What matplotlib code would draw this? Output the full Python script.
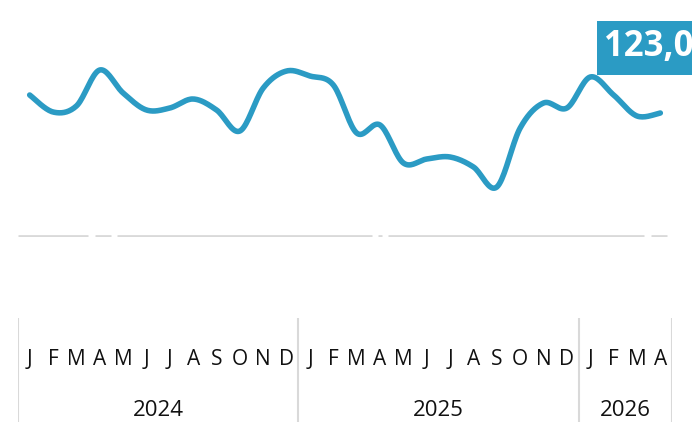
import matplotlib.pyplot as plt
from matplotlib.patches import Rectangle
import numpy as np

# monthly values, Jan 2024 .. Apr 2026
months = ["J", "F", "M", "A", "M", "J", "J", "A", "S", "O", "N", "D"] * 2 + ["J", "F", "M", "A"]
years = ["2024", "2025", "2026"]
year_lengths = [12, 12, 4]
values = [141, 124, 130, 166, 143, 126, 128, 137, 126, 105, 148, 165,
          160, 151, 103, 111, 73, 77, 79, 69, 49, 108, 133, 128,
          159, 141, 120, 123]
last_label = "123,0"

blue = "#2B9BC4"
grey = "#D9D9D9"


def smooth(x, y, steps=20):
    # excel-like smoothed line (catmull-rom through the points)
    x = np.asarray(x, float)
    y = np.asarray(y, float)
    px = np.concatenate([[x[0]], x, [x[-1]]])
    py = np.concatenate([[y[0]], y, [y[-1]]])
    out_x, out_y = [], []
    t = np.linspace(0, 1, steps)
    for i in range(1, len(px) - 2):
        for arr, out in ((px, out_x), (py, out_y)):
            p0, p1, p2, p3 = arr[i - 1], arr[i], arr[i + 1], arr[i + 2]
            c1 = p1 + (p2 - p0) / 6
            c2 = p2 - (p3 - p1) / 6
            out.extend((1 - t) ** 3 * p1 + 3 * (1 - t) ** 2 * t * c1 + 3 * (1 - t) * t ** 2 * c2 + t ** 3 * p2)
    return out_x, out_y


W, H = 692, 436
fig = plt.figure(figsize=(W / 100, H / 100), dpi=100)
left, right = 18 / W, 672 / W

ax = fig.add_axes([left, (H - 237) / H, right - left, 237 / H])
ax.set_xlim(-0.5, len(values) - 0.5)
ax.set_ylim(-1, 236)
ax.axis("off")

x = np.arange(len(values))
sx, sy = smooth(x, values)
ax.plot(sx, sy, color=blue, lw=4, solid_capstyle="round", solid_joinstyle="round", zorder=3)

# zero line with the small gaps seen in the reference
px2x = lambda p: (p - 18) / 23.36 - 0.5
for a, b in [(18, 88), (95, 111), (117, 372), (378, 382), (388, 644), (651, 667)]:
    ax.plot([px2x(a), px2x(b)], [0, 0], color=grey, lw=2, solid_capstyle="butt", zorder=1)

# label for last value, box runs off the right edge
fig.patches.append(Rectangle((597 / W, (H - 75) / H), 120 / W, 54 / H,
                             transform=fig.transFigure, fc=blue, ec="none", zorder=5))
fig.text(604 / W, (H - 47) / H, last_label, color="white", fontsize=25, fontweight="bold",
         family="Open Sans", va="center", ha="left", zorder=6)

# category axis below
ax2 = fig.add_axes([left, (H - 422) / H, right - left, (422 - 318) / H])
ax2.set_xlim(-0.5, len(values) - 0.5)
ax2.set_ylim(0, 1)
ax2.axis("off")
edges = np.concatenate([[0], np.cumsum(year_lengths)]) - 0.5
for e in edges:
    ax2.plot([e, e], [0, 1], color=grey, lw=1.5)
for i, m in enumerate(months):
    ax2.text(i, 0.6, m, ha="center", va="center", fontsize=15, family="Open Sans", color="#111111")
for k, yr in enumerate(years):
    ax2.text((edges[k] + edges[k + 1]) / 2, 0.11, yr, ha="center", va="center",
             fontsize=16, family="Open Sans", color="#111111")

fig.savefig("out.png", dpi=100)
